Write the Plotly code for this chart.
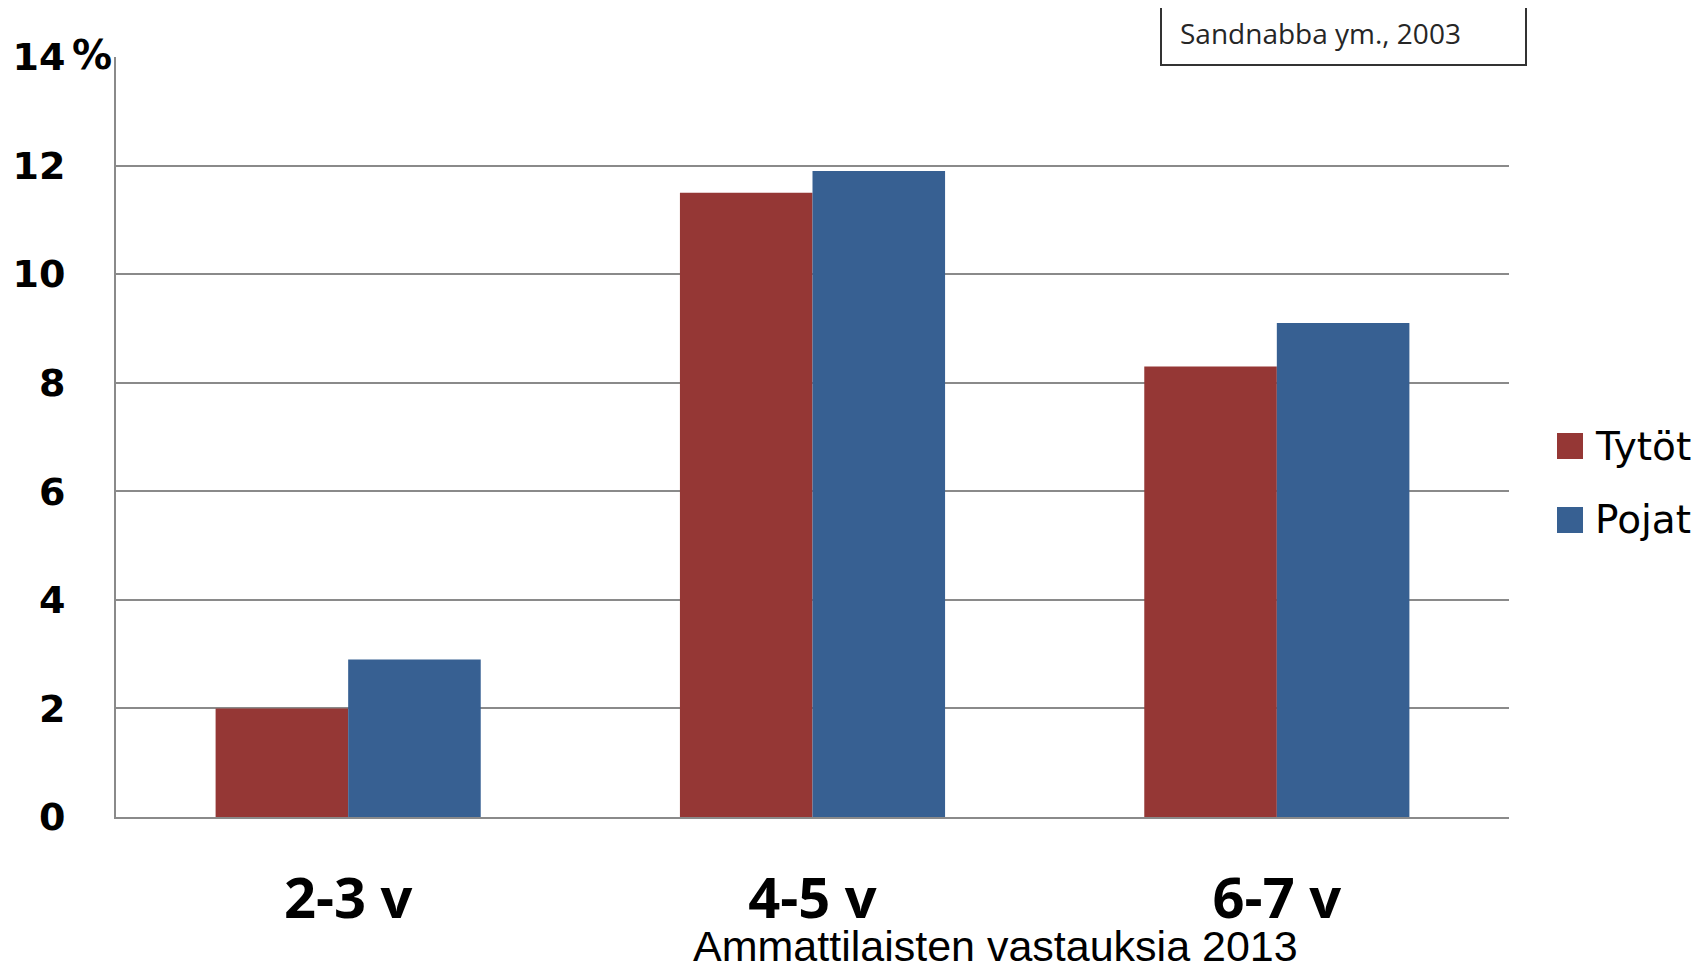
import plotly.graph_objects as go

categories = ["2-3 v", "4-5 v", "6-7 v"]
tytot = [2.0, 11.5, 8.3]
pojat = [2.9, 11.9, 9.1]
y_ticks = [0, 2, 4, 6, 8, 10, 12, 14]
y_ticktext = ["0", "2", "4", "6", "8", "10", "12", "14"]
series_names = ["Tytöt", "Pojat"]
source_text = "Sandnabba ym., 2003"
footer_text = "Ammattilaisten vastauksia 2013"

RED = "#953735"
BLUE = "#376092"

W, H = 1705, 963          # browser window
OFF = 8                   # default page body margin
L, R, T, B = 116, 1509, 57, 817   # plot area in window pixels


def px(p):
    return (p - L) / (R - L)


def py(p):
    return (B - p) / (B - T)


fig = go.Figure()
fig.add_bar(x=categories, y=tytot, name=series_names[0], marker_color=RED,
            marker_line_width=0, showlegend=False)
fig.add_bar(x=categories, y=pojat, name=series_names[1], marker_color=BLUE,
            marker_line_width=0, showlegend=False)

shapes = [
    # source box
    dict(type="rect", xref="paper", yref="paper", x0=px(1161), x1=px(1526),
         y0=py(65), y1=py(-2), line=dict(color="#333333", width=2),
         fillcolor="white", layer="above"),
    # legend swatches
    dict(type="rect", xref="paper", yref="paper", x0=px(1557), x1=px(1583),
         y0=py(459), y1=py(433), line=dict(width=0), fillcolor=RED),
    dict(type="rect", xref="paper", yref="paper", x0=px(1557), x1=px(1583),
         y0=py(533), y1=py(507), line=dict(width=0), fillcolor=BLUE),
]

annotations = [
    dict(text=source_text, xref="paper", yref="paper", x=px(1178), y=py(33),
         xanchor="left", yanchor="middle", showarrow=False,
         font=dict(family="Open Sans", size=28, color="#262626")),
    dict(text=series_names[0], xref="paper", yref="paper", x=px(1593), y=py(446),
         xanchor="left", yanchor="middle", showarrow=False,
         font=dict(family="DejaVu Sans", size=39, color="#000000")),
    dict(text=series_names[1], xref="paper", yref="paper", x=px(1593), y=py(520),
         xanchor="left", yanchor="middle", showarrow=False,
         font=dict(family="DejaVu Sans", size=39, color="#000000")),
    dict(text="%", xref="paper", yref="paper", x=px(70), y=py(55),
         xanchor="left", yanchor="middle", showarrow=False,
         font=dict(family="DejaVu Sans", size=40, color="#000000", weight="bold")),
    dict(text=footer_text, xref="paper", yref="paper", x=px(995), y=py(972),
         xanchor="center", yanchor="bottom", showarrow=False,
         font=dict(family="Liberation Sans", size=43, color="#000000")),
]

fig.update_layout(
    template="none",
    width=W - OFF, height=H - OFF,
    margin=dict(l=L - OFF, r=W - R, t=T - OFF, b=H - B, pad=0, autoexpand=False),
    paper_bgcolor="white", plot_bgcolor="white",
    barmode="group", bargap=0.429, bargroupgap=0,
    showlegend=False,
    shapes=shapes, annotations=annotations,
    xaxis=dict(
        automargin=False,
        showgrid=False, showline=True, linecolor="#8a8a8a", linewidth=2,
        ticks="", ticklabelstandoff=32,
        tickfont=dict(family="Open Sans", size=56, color="#000000", weight="bold"),
        zeroline=False, fixedrange=True,
    ),
    yaxis=dict(
        automargin=False,
        range=[0, 14], tickvals=y_ticks, ticktext=y_ticktext,
        showgrid=True, gridcolor="#8a8a8a", gridwidth=1.5,
        showline=True, linecolor="#8a8a8a", linewidth=2,
        zeroline=False, ticks="", ticklabelstandoff=41,
        tickfont=dict(family="DejaVu Sans", size=38, color="#000000", weight="bold"),
        fixedrange=True,
    ),
)

fig.write_html("out.html")
